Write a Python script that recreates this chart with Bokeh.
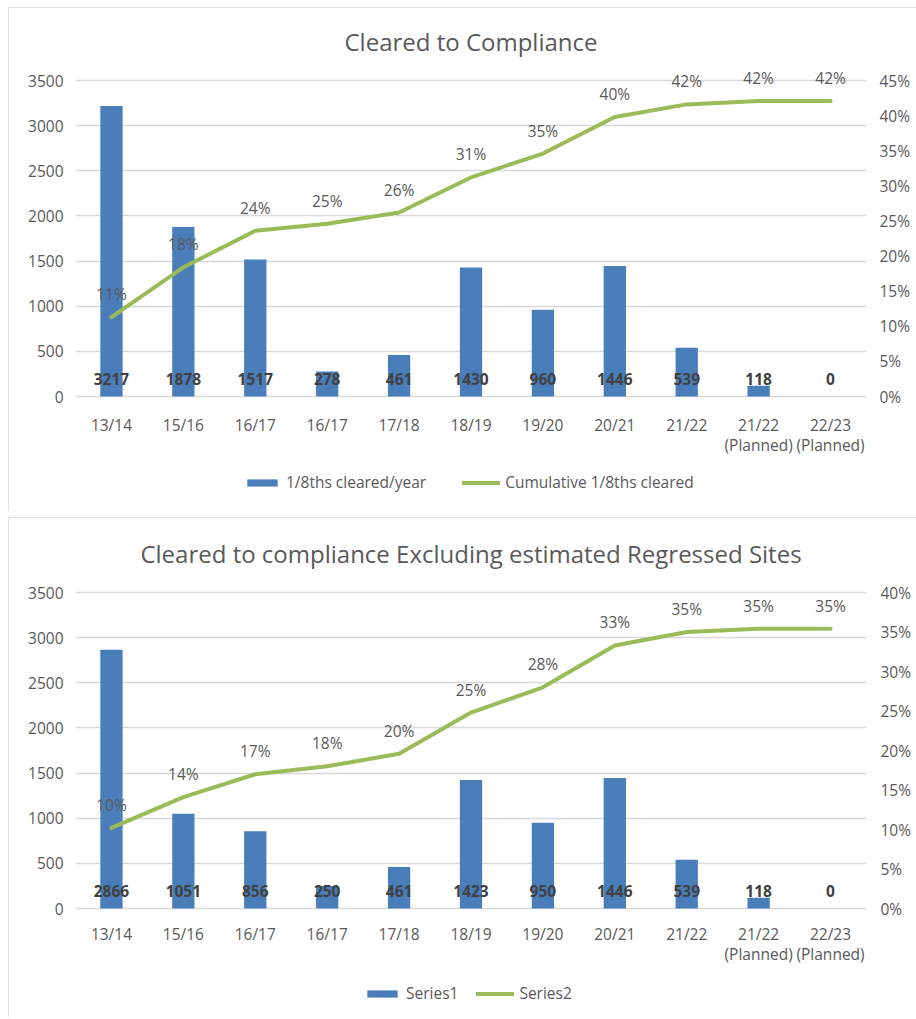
from bokeh.plotting import figure
from bokeh.models import (Range1d, LinearAxis, FixedTicker, Legend, LegendItem,
                          ColumnDataSource, PrintfTickFormatter)
from bokeh.layouts import column
from bokeh.core.properties import value
from bokeh.embed import file_html
from bokeh.resources import INLINE

# ---------------- data ----------------
categories = ["13/14", "15/16", "16/17", "16/17", "17/18", "18/19", "19/20",
              "20/21", "21/22", "21/22\n(Planned)", "22/23\n(Planned)"]

top_title = "Cleared to Compliance"
top_bars = [3217, 1878, 1517, 278, 461, 1430, 960, 1446, 539, 118, 0]
top_cum = [11.3, 18.4, 23.6, 24.6, 26.2, 31.2, 34.6, 39.8, 41.6, 42.1, 42.1]
top_series = ["1/8ths cleared/year", "Cumulative 1/8ths cleared"]
top_pct_ticks = [0, 5, 10, 15, 20, 25, 30, 35, 40, 45]

bottom_title = "Cleared to compliance Excluding estimated Regressed Sites"
bottom_bars = [2866, 1051, 856, 250, 461, 1423, 950, 1446, 539, 118, 0]
bottom_cum = [10.2, 14.1, 17.0, 18.0, 19.6, 24.8, 28.0, 33.3, 35.0, 35.4, 35.4]
bottom_series = ["Series1", "Series2"]
bottom_pct_ticks = [0, 5, 10, 15, 20, 25, 30, 35, 40]

count_ticks = [0, 500, 1000, 1500, 2000, 2500, 3000, 3500]

FONT = "Open Sans"
TXT = "#595959"
GRID = "#d9d9d9"
BLUE = "#4A7EBB"
GREEN = "#9BBB59"

PX_PER_3500 = 316.0  # pixel height of the 0..3500 span


def style_axis(ax, standoff):
    ax.axis_line_color = None
    ax.major_tick_line_color = None
    ax.minor_tick_line_color = None
    ax.major_tick_out = 0
    ax.major_tick_in = 0
    ax.minor_tick_out = 0
    ax.minor_tick_in = 0
    ax.major_label_text_font = FONT
    ax.major_label_text_font_size = "15.5px"
    ax.major_label_text_color = TXT
    ax.major_label_standoff = standoff


def make_chart(title, bars, cum, pct_ticks, series_names, width, height,
               mb_left, mb_right, mb_top, mb_bottom, r_standoff, cat_off,
               leg_loc, leg_spacing, margin):
    n = len(categories)
    ymax_count = count_ticks[-1]
    ymax_pct = pct_ticks[-1]
    k = ymax_pct / ymax_count
    ppu = PX_PER_3500 / ymax_count
    y1 = 3600
    frame_h = height - mb_top - mb_bottom
    y0 = y1 - frame_h / ppu
    p = figure(width=width, height=height, output_backend="svg", toolbar_location=None,
               x_range=Range1d(-0.5, n - 0.5), y_range=Range1d(y0, y1),
               x_axis_location=None,
               min_border_left=mb_left, min_border_right=mb_right,
               min_border_top=mb_top, min_border_bottom=mb_bottom)
    p.margin = margin
    p.extra_y_ranges = {"pct": Range1d(y0 * k, y1 * k)}
    p.outline_line_color = None
    p.background_fill_color = "white"
    p.border_fill_color = "white"
    p.styles = {"outline": "1.5px solid #d9d9d9", "outline-offset": "-1px"}

    p.title.text = title
    p.title.text_font = FONT
    p.title.text_font_size = "24px"
    p.title.text_font_style = "normal"
    p.title.text_color = TXT
    p.title.align = "center"
    p.title.standoff = 28

    xs = list(range(n))
    src = ColumnDataSource(dict(
        x=xs, bars=bars, cum=cum, base=[0] * n, cat=categories,
        bar_lbl=[str(b) for b in bars],
        pct_lbl=[f"{round(c)}%" for c in cum],
    ))

    r_bar = p.vbar(x="x", top="bars", width=0.31, source=src,
                   fill_color=BLUE, line_color=None)
    r_line = p.line(x="x", y="cum", source=src, y_range_name="pct",
                    line_color=GREEN, line_width=4, line_join="round", line_cap="round")

    # data labels
    p.text(x="x", y="base", text="bar_lbl", source=src, y_offset=-18,
           text_align="center", text_baseline="middle",
           text_font=value(FONT), text_font_size="15.5px", text_font_style="bold",
           text_color="#404040")
    p.text(x="x", y="cum", text="pct_lbl", source=src, y_range_name="pct",
           y_offset=-23, text_align="center", text_baseline="middle",
           text_font=value(FONT), text_font_size="15.5px", text_color=TXT)
    # category labels (names repeat, so they are drawn as text under each bar)
    p.text(x="x", y="base", text="cat", source=src, y_offset=cat_off,
           text_align="center", text_baseline="top", text_line_height=0.95,
           text_font=value(FONT), text_font_size="15.5px", text_color=TXT)

    # left axis
    p.yaxis.ticker = FixedTicker(ticks=count_ticks)
    style_axis(p.yaxis[0], 12)

    # right axis
    rax = LinearAxis(y_range_name="pct", ticker=FixedTicker(ticks=pct_ticks),
                     formatter=PrintfTickFormatter(format="%d%%"))
    style_axis(rax, r_standoff)
    p.add_layout(rax, "right")

    p.xgrid.visible = False
    p.ygrid.ticker = FixedTicker(ticks=count_ticks)
    p.ygrid.grid_line_color = GRID
    p.ygrid.grid_line_width = 1.5

    legend = Legend(items=[LegendItem(label=series_names[0], renderers=[r_bar]),
                           LegendItem(label=series_names[1], renderers=[r_line])],
                    orientation="horizontal", location=leg_loc)
    legend.border_line_color = None
    legend.background_fill_alpha = 0
    legend.label_text_font = FONT
    legend.label_text_font_size = "15.5px"
    legend.label_text_color = TXT
    legend.glyph_width = 38
    legend.glyph_height = 9
    legend.label_standoff = 5
    legend.spacing = leg_spacing
    legend.padding = 2
    legend.margin = 0
    p.add_layout(legend)
    return p


p1 = make_chart(top_title, top_bars, top_cum, top_pct_ticks, top_series,
                908, 504, 67, 49, 64, 6, 13, 17, (168, 12), 36, (7, 0, 0, 8))
p2 = make_chart(bottom_title, bottom_bars, bottom_cum, bottom_pct_ticks, bottom_series,
                908, 500, 65, 50, 66, 5, 14, 14, (288, 8), 18, (6, 0, 0, 8))

layout = column(p1, p2)
open("out.html", "w").write(file_html(layout, INLINE))
